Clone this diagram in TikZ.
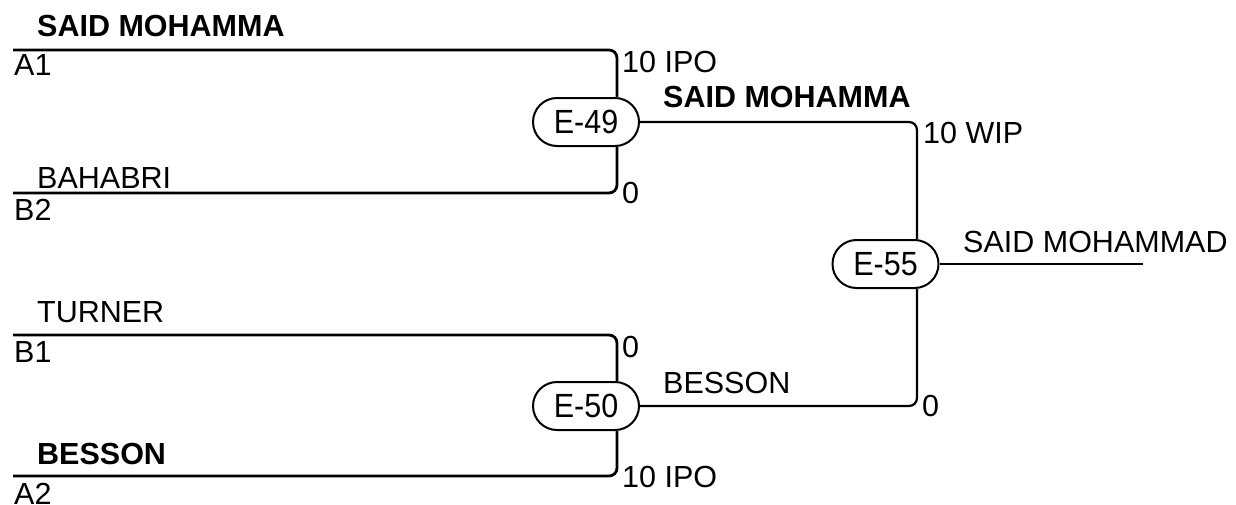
\documentclass[tikz,border=0pt]{standalone}
\usepackage{fontspec}
\setmainfont{Liberation Sans}
\usetikzlibrary{shapes.misc}
\newcommand{\tallnum}[1]{\scalebox{1}[1.1]{#1}}
\begin{document}
\begin{tikzpicture}[x=1pt,y=-1pt,
  txt/.style={anchor=base west,inner sep=0pt,font=\fontsize{30.5}{36}\selectfont},
  btxt/.style={txt,font=\fontsize{30.5}{36}\selectfont\bfseries},
  matchbox/.style={draw,line width=2pt,rounded rectangle,minimum width=106pt,minimum height=48pt,inner sep=0pt,font=\fontsize{30.5}{36}\selectfont},
  wire/.style={line width=2.2pt,rounded corners=8pt},
  entry/.style={line width=2.8pt,rounded corners=8pt}]
\useasboundingbox (0,0) rectangle (1236,504);
% match nodes
\node[matchbox] (e49) at (586,122) {\tallnum{E-49}};
\node[matchbox] (e50) at (586,406) {\tallnum{E-50}};
\node[matchbox] (e55) at (885.5,264) {\tallnum{E-55}};
% free ends
\coordinate (a1) at (13,50);
\coordinate (b2) at (13,193);
\coordinate (b1) at (13,335);
\coordinate (a2) at (13,476);
\coordinate (fin) at (1143,264);
% connectors
\draw[entry] (a1) -| ([xshift=31pt]e49.north);
\draw[entry] (b2) -| ([xshift=31pt]e49.south);
\draw[entry] (b1) -| ([xshift=31pt]e50.north);
\draw[entry] (a2) -| ([xshift=31pt]e50.south);
\draw[wire] (e49.east) -| ([xshift=31.5pt]e55.north);
\draw[wire] (e50.east) -| ([xshift=31.5pt]e55.south);
\draw[wire] (e55.east) -- (fin);
% labels
\node[btxt] (t1) at (37,36) {SAID MOHAMMA};
\node[txt] (t2) at (14,75) {A1};
\node[txt] (t3) at (37,188) {BAHABRI};
\node[txt] (t4) at (14,220) {B2};
\node[txt] (t5) at (37,322) {TURNER};
\node[txt] (t6) at (14,362) {B1};
\node[btxt] (t7) at (37,464) {BESSON};
\node[txt] (t8) at (14,504) {A2};
\node[txt] (s1) at (622,72) {10 IPO};
\node[txt] (s2) at (622,203) {0};
\node[txt] (s3) at (622,357) {0};
\node[txt] (s4) at (622,487) {10 IPO};
\node[btxt] (w1) at (663,107) {SAID MOHAMMA};
\node[txt] (w2) at (663,393) {BESSON};
\node[txt] (s5) at (923,143) {10 WIP};
\node[txt] (s6) at (922,416) {0};
\node[txt] (w3) at (963,252) {SAID MOHAMMAD};
\end{tikzpicture}
\end{document}
